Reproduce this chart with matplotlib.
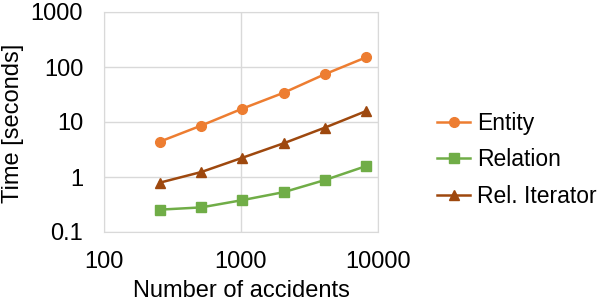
import matplotlib.pyplot as plt

plt.rcParams['font.family'] = ['Liberation Sans', 'DejaVu Sans']

accidents = [256, 512, 1024, 2048, 4096, 8192]
entity = [4.4, 8.6, 17.5, 34, 74, 150]
relation = [0.255, 0.28, 0.38, 0.53, 0.88, 1.58]
rel_iter = [0.79, 1.23, 2.24, 4.1, 7.9, 15.8]

fig = plt.figure(figsize=(5.98, 3.06), dpi=100)
ax = fig.add_axes([104 / 598, 74 / 306, 274 / 598, 220 / 306])

ax.plot(accidents, entity, color='#ED7D31', marker='o', markersize=7, lw=1.8, label='Entity')
ax.plot(accidents, relation, color='#70AD47', marker='s', markersize=6.5, lw=1.8, label='Relation')
ax.plot(accidents, rel_iter, color='#9E480E', marker='^', markersize=7, lw=1.8, label='Rel. Iterator')

ax.set_xscale('log')
ax.set_yscale('log')
ax.set_xlim(100, 10000)
ax.set_ylim(0.1, 1000)
ax.set_xticks([100, 1000, 10000])
ax.set_xticklabels(['100', '1000', '10000'])
ax.set_yticks([0.1, 1, 10, 100, 1000])
ax.set_yticklabels(['0.1', '1', '10', '100', '1000'])
ax.minorticks_off()
ax.tick_params(length=0, labelsize=17)
ax.tick_params(axis='x', pad=14)
ax.tick_params(axis='y', pad=15)
ax.grid(True, color='#D9D9D9', lw=1)
for s in ax.spines.values():
    s.set_color('#D9D9D9')

fig.text(241 / 598, 1 - 297 / 306, 'Number of accidents', fontsize=17,
         ha='center', va='baseline')
fig.text(2 / 598, 1 - 123 / 306, 'Time [seconds]', fontsize=17,
         ha='left', va='center', rotation=90)

fig.legend(loc='center left', bbox_to_anchor=(437 / 598, 1 - 160 / 306), frameon=False,
           fontsize=16.5, handlelength=1.45, handletextpad=0.3, labelspacing=0.6,
           borderpad=0, borderaxespad=0)

fig.savefig('out.png', dpi=100)
